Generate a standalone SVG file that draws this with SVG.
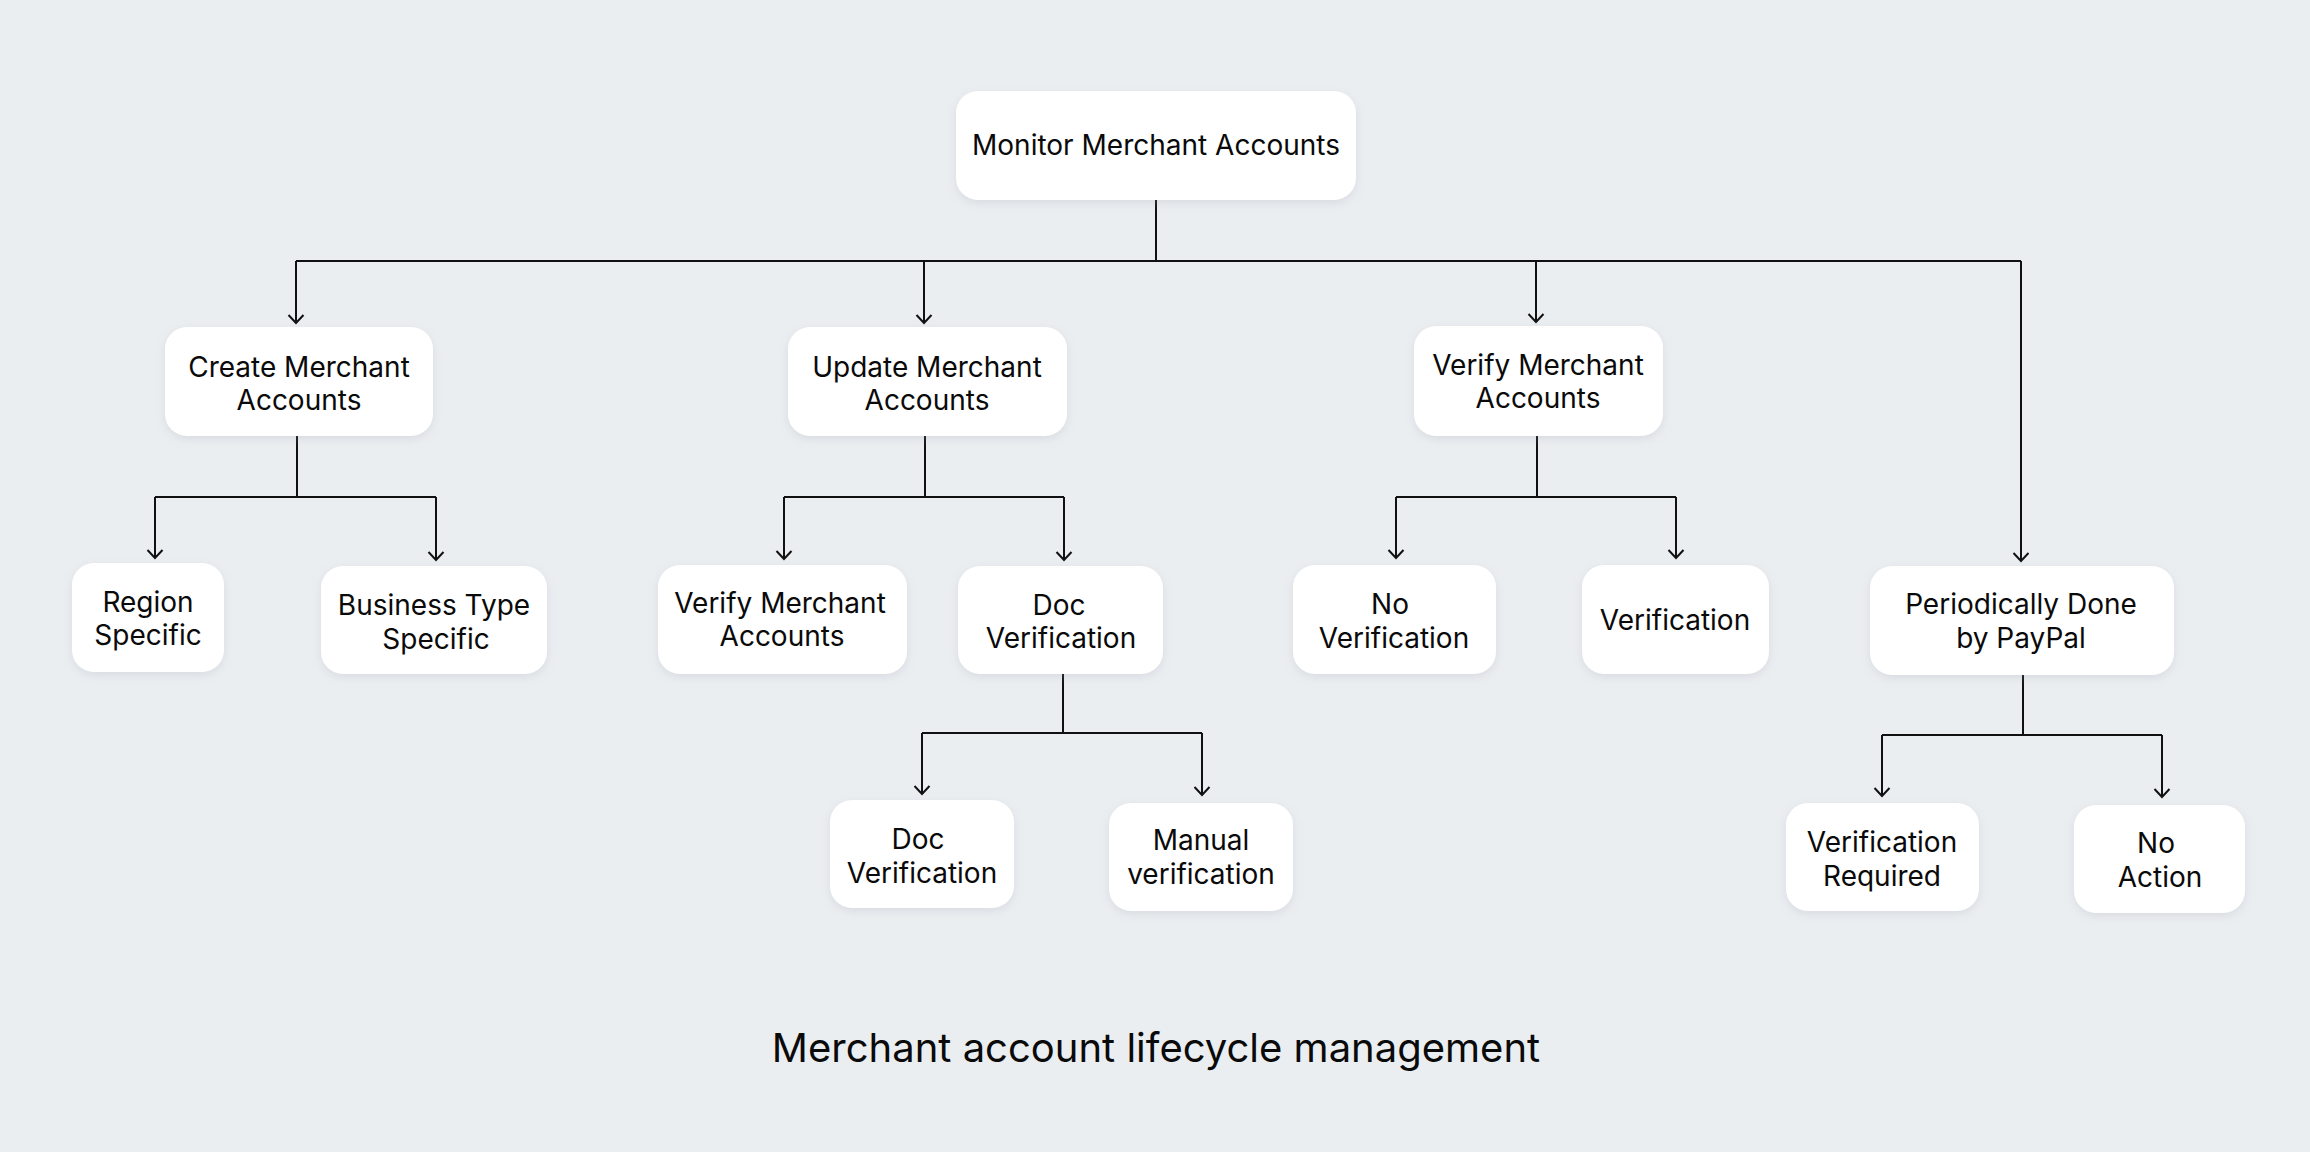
<svg xmlns="http://www.w3.org/2000/svg" width="2310" height="1152" viewBox="0 0 2310 1152">
<defs>
<style>
.bg{fill:#ebeef1}
.box{fill:#ffffff;filter:url(#sh)}
.t{font-family:Inter,"Liberation Sans",sans-serif;font-size:28px;fill:#0a0a0a;text-anchor:middle}
.title{font-family:Inter,"Liberation Sans",sans-serif;font-size:40px;fill:#0a0a0a;text-anchor:middle}
.c{fill:none;stroke:#111;stroke-width:2}
</style>
<filter id="sh" x="-20%" y="-20%" width="140%" height="150%">
<feDropShadow dx="0" dy="3" stdDeviation="5" flood-color="#9aa3ad" flood-opacity="0.25"/>
</filter>
<marker id="ar" markerUnits="userSpaceOnUse" markerWidth="20" markerHeight="20" viewBox="-10 -10 20 20" refX="0" refY="0" orient="auto">
<path d="M-8,-7.5 L0,0 L-8,7.5" fill="none" stroke="#111" stroke-width="2"/>
</marker>
</defs>
<rect class="bg" x="0" y="0" width="2310" height="1152"/>

<g id="connectors">
<path class="c" d="M1156,200 V261"/>
<path class="c" d="M296,261 H2021"/>
<path class="c" d="M296,261 V323" marker-end="url(#ar)"/>
<path class="c" d="M924,261 V323" marker-end="url(#ar)"/>
<path class="c" d="M1536,261 V322" marker-end="url(#ar)"/>
<path class="c" d="M2021,261 V561" marker-end="url(#ar)"/>

<path class="c" d="M297,436 V497"/>
<path class="c" d="M155,497 H436"/>
<path class="c" d="M155,497 V558" marker-end="url(#ar)"/>
<path class="c" d="M436,497 V560" marker-end="url(#ar)"/>

<path class="c" d="M925,436 V497"/>
<path class="c" d="M784,497 H1064"/>
<path class="c" d="M784,497 V559" marker-end="url(#ar)"/>
<path class="c" d="M1064,497 V560" marker-end="url(#ar)"/>

<path class="c" d="M1537,436 V497"/>
<path class="c" d="M1396,497 H1676"/>
<path class="c" d="M1396,497 V558" marker-end="url(#ar)"/>
<path class="c" d="M1676,497 V558" marker-end="url(#ar)"/>

<path class="c" d="M1063,673 V733"/>
<path class="c" d="M922,733 H1202"/>
<path class="c" d="M922,733 V794" marker-end="url(#ar)"/>
<path class="c" d="M1202,733 V795" marker-end="url(#ar)"/>

<path class="c" d="M2023,675 V735"/>
<path class="c" d="M1882,735 H2162"/>
<path class="c" d="M1882,735 V796" marker-end="url(#ar)"/>
<path class="c" d="M2162,735 V797" marker-end="url(#ar)"/>
</g>

<g id="monitor"><rect class="box" x="956" y="91" width="400" height="109" rx="22"/><text class="t" x="1156" y="155">Monitor Merchant Accounts</text></g>
<g id="create"><rect class="box" x="165" y="327" width="268" height="109" rx="22"/><text class="t" x="299" y="377">Create Merchant</text><text class="t" x="299" y="410">Accounts</text></g>
<g id="update"><rect class="box" x="788" y="327" width="279" height="109" rx="22"/><text class="t" x="927" y="377">Update Merchant</text><text class="t" x="927" y="410">Accounts</text></g>
<g id="verify"><rect class="box" x="1414" y="326" width="249" height="110" rx="22"/><text class="t" x="1538" y="375">Verify Merchant</text><text class="t" x="1538" y="408">Accounts</text></g>
<g id="periodic"><rect class="box" x="1870" y="566" width="304" height="109" rx="22"/><text class="t" x="2021" y="614">Periodically Done</text><text class="t" x="2021" y="648">by PayPal</text></g>
<g id="region"><rect class="box" x="72" y="563" width="152" height="109" rx="22"/><text class="t" x="148" y="612">Region</text><text class="t" x="148" y="645">Specific</text></g>
<g id="business"><rect class="box" x="321" y="566" width="226" height="108" rx="22"/><text class="t" x="434" y="615">Business Type</text><text class="t" x="436" y="649">Specific</text></g>
<g id="verify-child"><rect class="box" x="658" y="565" width="249" height="109" rx="22"/><text class="t" x="780" y="613">Verify Merchant</text><text class="t" x="782" y="646">Accounts</text></g>
<g id="doc-verification"><rect class="box" x="958" y="566" width="205" height="108" rx="22"/><text class="t" x="1059" y="615">Doc</text><text class="t" x="1061" y="648">Verification</text></g>
<g id="no-verification"><rect class="box" x="1293" y="565" width="203" height="109" rx="22"/><text class="t" x="1390" y="614">No</text><text class="t" x="1394" y="648">Verification</text></g>
<g id="verification"><rect class="box" x="1582" y="565" width="187" height="109" rx="22"/><text class="t" x="1675" y="630">Verification</text></g>
<g id="doc-verification-2"><rect class="box" x="830" y="800" width="184" height="108" rx="22"/><text class="t" x="918" y="849">Doc</text><text class="t" x="922" y="883">Verification</text></g>
<g id="manual"><rect class="box" x="1109" y="803" width="184" height="108" rx="22"/><text class="t" x="1201" y="850">Manual</text><text class="t" x="1201" y="884">verification</text></g>
<g id="verification-required"><rect class="box" x="1786" y="803" width="193" height="108" rx="22"/><text class="t" x="1882" y="852">Verification</text><text class="t" x="1882" y="886">Required</text></g>
<g id="no-action"><rect class="box" x="2074" y="805" width="171" height="108" rx="22"/><text class="t" x="2156" y="853">No</text><text class="t" x="2160" y="887">Action</text></g>

<text class="title" x="1156" y="1062">Merchant account lifecycle management</text>
</svg>
